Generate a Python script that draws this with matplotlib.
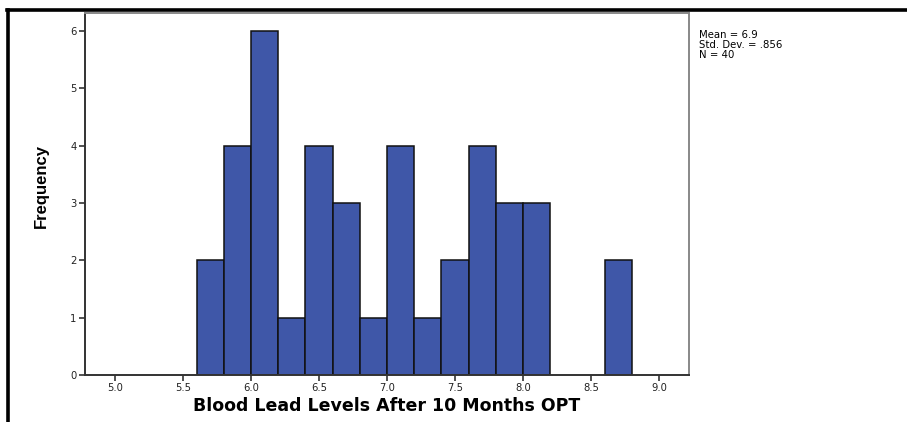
import numpy as np
import matplotlib.pyplot as plt
from matplotlib.lines import Line2D

plt.rcParams['font.family'] = ['DejaVu Sans']

# histogram bins (width 0.2) and counts
bin_left = [5.6, 5.8, 6.0, 6.2, 6.4, 6.6, 6.8, 7.0, 7.2, 7.4, 7.6, 7.8, 8.0, 8.6]
counts = [2, 4, 6, 1, 4, 3, 1, 4, 1, 2, 4, 3, 3, 2]
bin_width = 0.2
xticks = [5.0, 5.5, 6.0, 6.5, 7.0, 7.5, 8.0, 8.5, 9.0]
yticks = [0, 1, 2, 3, 4, 5, 6]
stats_lines = ['Mean = 6.9', 'Std. Dev. = .856', 'N = 40']

fig = plt.figure(figsize=(9.07, 4.22), dpi=100)
ax = fig.add_axes([0.0937, 0.1114, 0.666, 0.8578])

ax.bar(bin_left, counts, width=bin_width, align='edge',
       color='#3F57A8', edgecolor='#111111', linewidth=1.1, zorder=2)

ax.set_xlim(4.78, 9.22)
ax.set_ylim(0, 6.31)
ax.set_xticks(xticks)
ax.set_xticklabels(['%.1f' % t for t in xticks])
ax.set_yticks(yticks)
ax.tick_params(labelsize=7.2, length=4, width=1.2, color='#333333', pad=2,
               labelcolor='#222222')

for s in ['left', 'bottom']:
    ax.spines[s].set_color('#333333')
    ax.spines[s].set_linewidth(1.4)
for s in ['top', 'right']:
    ax.spines[s].set_color('#888888')
    ax.spines[s].set_linewidth(1.4)

ax.set_xlabel('Blood Lead Levels After 10 Months OPT', fontsize=12.5,
              fontweight='bold', labelpad=3)
fig.text(0.046, 0.56, 'Frequency', fontsize=12, fontweight='bold',
         rotation=90, ha='center', va='center',
         family=['Liberation Sans', 'DejaVu Sans'])

# summary stats, one line at a time for tight spacing
for i, line in enumerate(stats_lines):
    fig.text(0.771, 0.918 - i * 0.0245, line, fontsize=7.3, va='center',
             ha='left')

# outer frame: top and left edges
fig.add_artist(Line2D([0.008, 1.0], [0.976, 0.976], color='black', lw=2.6,
                      transform=fig.transFigure))
fig.add_artist(Line2D([0.009, 0.009], [0.0, 0.976], color='black', lw=2.6,
                      transform=fig.transFigure))

plt.savefig('out.png', dpi=100)
